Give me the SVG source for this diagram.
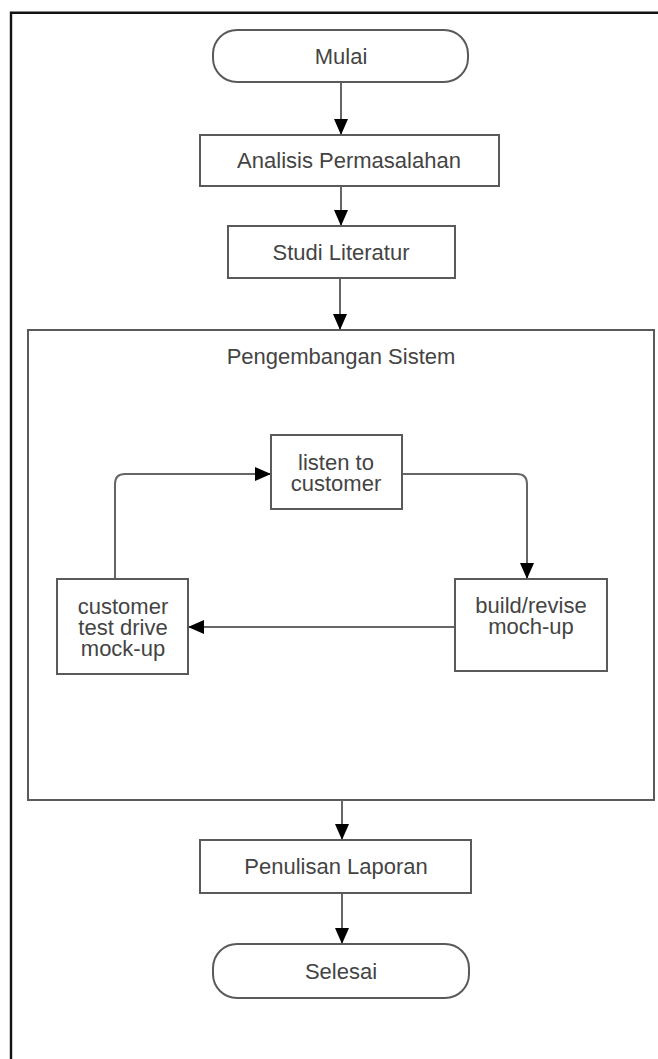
<svg xmlns="http://www.w3.org/2000/svg" width="658" height="1059" viewBox="0 0 658 1059">
<defs>
<style>
.node{fill:#fff;stroke:#5a5a5a;stroke-width:2}
.lbl{font-family:"Liberation Sans",Arial,sans-serif;font-size:22px;fill:#444;text-anchor:middle}
.conn{fill:none;stroke:#666;stroke-width:2}
</style>
<marker id="arr" markerUnits="userSpaceOnUse" markerWidth="16" markerHeight="14" refX="16" refY="7" orient="auto">
<path d="M0,0 L16,7 L0,14 z" fill="#000"/>
</marker>
</defs>
<rect width="658" height="1059" fill="#fff"/>
<path id="frame" d="M11,1059 V12.7 H658" fill="none" stroke="#111" stroke-width="2.4"/>
<g id="container">
<rect class="node" x="28" y="330" width="626" height="470"/>
<text class="lbl" x="341" y="364">Pengembangan Sistem</text>
</g>
<g id="connectors">
<path class="conn" d="M341,82 V135" marker-end="url(#arr)"/>
<path class="conn" d="M341,186 V226" marker-end="url(#arr)"/>
<path class="conn" d="M340,278 V330" marker-end="url(#arr)"/>
<path class="conn" d="M115,579 V484 Q115,474 125,474 H271" marker-end="url(#arr)"/>
<path class="conn" d="M402,474 H517 Q527,474 527,484 V579" marker-end="url(#arr)"/>
<path class="conn" d="M455,627 H188" marker-end="url(#arr)"/>
<path class="conn" d="M342,800 V840" marker-end="url(#arr)"/>
<path class="conn" d="M342,893 V944" marker-end="url(#arr)"/>
</g>
<g id="mulai">
<rect class="node" x="213" y="30" width="255" height="52" rx="24" ry="24"/>
<text class="lbl" x="341" y="64">Mulai</text>
</g>
<g id="analisis">
<rect class="node" x="200" y="135" width="299" height="51"/>
<text class="lbl" x="349" y="168">Analisis Permasalahan</text>
</g>
<g id="studi">
<rect class="node" x="228" y="226" width="227" height="52"/>
<text class="lbl" x="341" y="260">Studi Literatur</text>
</g>
<g id="listen">
<rect class="node" x="271" y="435" width="131" height="74"/>
<text class="lbl" x="336" y="470">listen to</text>
<text class="lbl" x="336" y="491">customer</text>
</g>
<g id="testdrive">
<rect class="node" x="57" y="579" width="131" height="95"/>
<text class="lbl" x="123" y="614">customer</text>
<text class="lbl" x="123" y="635">test drive</text>
<text class="lbl" x="123" y="656">mock-up</text>
</g>
<g id="build">
<rect class="node" x="455" y="579" width="152" height="92"/>
<text class="lbl" x="531" y="613">build/revise</text>
<text class="lbl" x="531" y="634">moch-up</text>
</g>
<g id="penulisan">
<rect class="node" x="200" y="840" width="271" height="53"/>
<text class="lbl" x="336" y="874">Penulisan Laporan</text>
</g>
<g id="selesai">
<rect class="node" x="213" y="944" width="256" height="54" rx="24" ry="24"/>
<text class="lbl" x="341" y="979">Selesai</text>
</g>
</svg>
